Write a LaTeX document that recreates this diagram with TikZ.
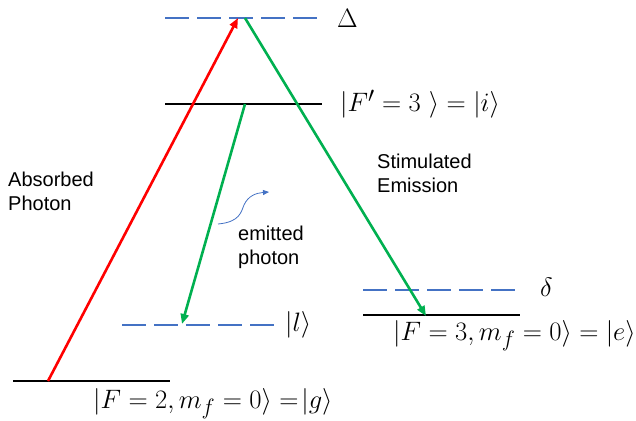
\documentclass[tikz,border=0pt]{standalone}
\usepackage{fontspec}
\setsansfont{Liberation Sans}
\usetikzlibrary{arrows.meta}
\definecolor{lblue}{HTML}{4472C4}
\definecolor{lgreen}{HTML}{00B050}
\definecolor{lred}{HTML}{FF0000}
\begin{document}
\begin{tikzpicture}[x=1pt,y=-1pt,
  solidlevel/.style={line width=2.8pt,black},
  dashlevel/.style={line width=2.8pt,lblue,dash pattern=on 24pt off 8pt},
  trans/.style={line width=2.6pt,-{Triangle[length=10pt,width=8pt]}},
  txt/.style={font=\sffamily\fontsize{20}{24}\selectfont,align=left,inner sep=0pt},
  mathlbl/.style={font=\fontsize{24.88}{30}\selectfont,inner sep=0pt,scale=1.07,transform shape}]
\useasboundingbox (0,0) rectangle (636,420);
% levels
\coordinate (D1) at (165,18); \coordinate (D2) at (317,18);
\coordinate (I1) at (165,104); \coordinate (I2) at (322,104);
\coordinate (L1) at (122,325); \coordinate (L2) at (275,325);
\coordinate (d1) at (363,290); \coordinate (d2) at (516,290);
\coordinate (E1) at (363,315); \coordinate (E2) at (520,315);
\coordinate (G1) at (13,381); \coordinate (G2) at (170,381);
\draw[dashlevel] (D1) -- (D2);
\draw[solidlevel] (I1) -- (I2);
\draw[dashlevel] (L1) -- (L2);
\draw[dashlevel] (d1) -- (d2);
\draw[solidlevel] (E1) -- (E2);
\draw[solidlevel] (G1) -- (G2);
% labels
\node[mathlbl,anchor=west] (lD) at (337,18) {$\Delta$};
\node[mathlbl,anchor=west] (lI) at (340,104) {$\big|F' = 3\ \rangle = |i\rangle$};
\node[mathlbl,anchor=west] (lL) at (285,325) {$|l\rangle$};
\node[mathlbl,anchor=west] (ld) at (540,287) {$\delta$};
\node[mathlbl,anchor=west] (lE) at (393,336) {$\big|F = 3, m_f = 0\big\rangle = |e\rangle$};
\node[mathlbl,anchor=west] (lG) at (93,404) {$\big|F = 2, m_f = 0\big\rangle =\!|g\rangle$};
% transitions
\coordinate (rs) at (48,381); \coordinate (re) at (238,18);
\draw[trans,lred] (rs) -- (re);
\coordinate (gs) at (245,18); \coordinate (ge) at (426,316);
\draw[trans,lgreen] (gs) -- (ge);
\coordinate (es) at (245,104); \coordinate (ee) at (182,324);
\draw[trans,lgreen] (es) -- (ee);
% texts
\node[txt,anchor=north west] (abs) at (8,172) {Absorbed\\Photon};
\node[txt,anchor=north west] (stim) at (377,154) {Stimulated\\Emission};
\node[txt,anchor=north west] (emit) at (238,226) {emitted\\photon};
% wavy photon
\coordinate (w1) at (218,224); \coordinate (w2) at (269,192);
\draw[lblue,line width=0.8pt,-{Triangle[length=6pt,width=5pt]}] (w1) .. controls (240,222) and (241,212) .. (244,205) .. controls (248,196) and (256,193) .. (w2);
\end{tikzpicture}
\end{document}
